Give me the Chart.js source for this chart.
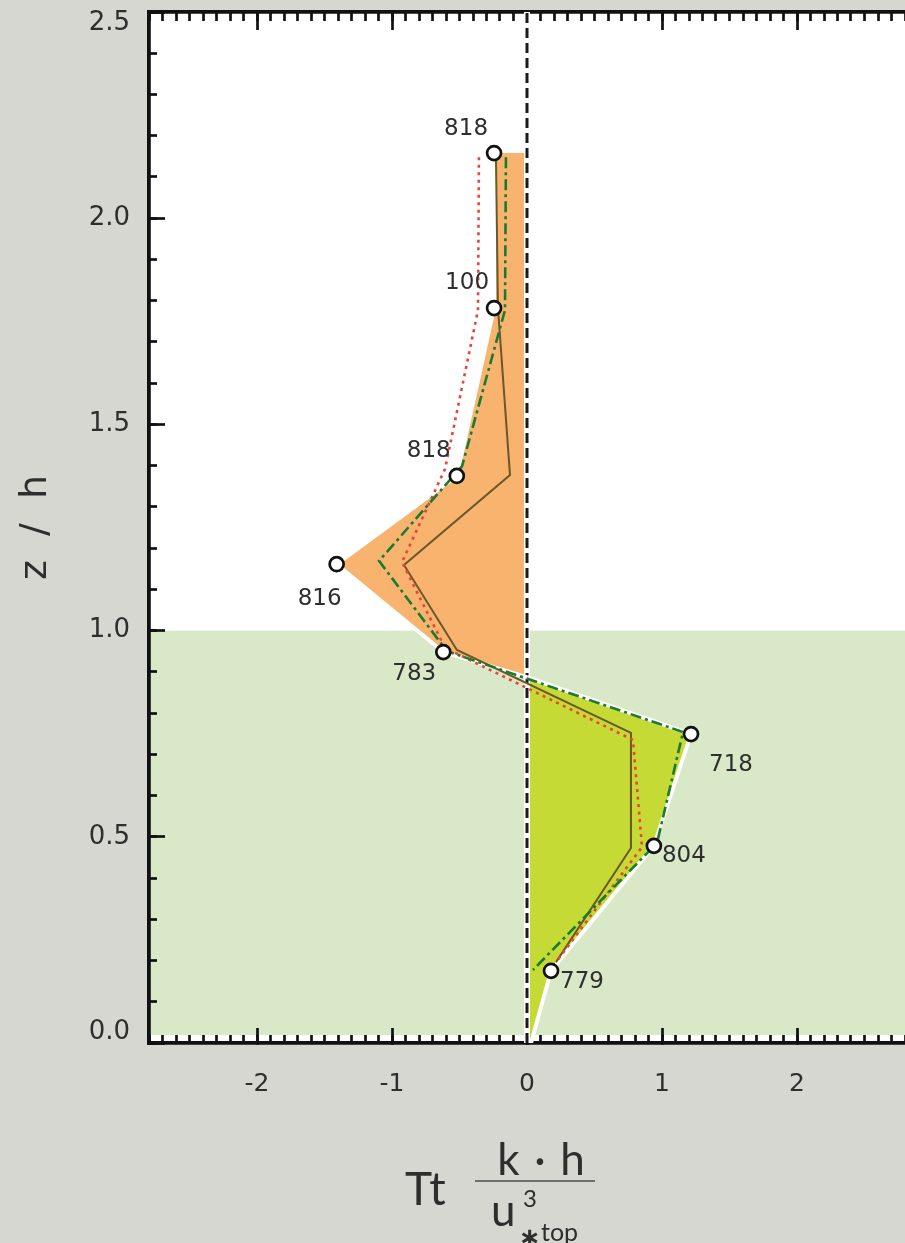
<!DOCTYPE html>
<html>
<head>
<meta charset="utf-8">
<script src="https://cdn.jsdelivr.net/npm/chart.js@4.4.1/dist/chart.umd.min.js"></script>
<style>
  html, body { margin: 0; padding: 0; background: #d7d7d1; }
  canvas { display: block; }
</style>
</head>
<body>
<canvas id="chart" width="905" height="1243"></canvas>
<script>
// Measured turbulent transport (normalised) against z/h, with sample counts
const profileZ = [2.158, 1.782, 1.375, 1.161, 0.948, 0.749, 0.478, 0.175];
const profileT = [-0.244, -0.244, -0.52, -1.41, -0.62, 1.215, 0.94, 0.178];
const sampleCounts = ['818', '100', '818', '816', '783', '718', '804', '779'];

// Envelope through the measurements: upper (negative) part and lower (positive) part
const envelopeUpperZ = [2.158, 1.782, 1.375, 1.161, 0.948, 0.887];
const envelopeUpperT = [-0.244, -0.244, -0.52, -1.41, -0.62, 0.0];
const envelopeLowerZ = [0.887, 0.749, 0.478, 0.175, 0.0];
const envelopeLowerT = [0.0, 1.215, 0.94, 0.178, 0.03];

// Model profiles
const solidZ = [2.148, 1.782, 1.377, 1.159, 0.953, 0.752, 0.473, 0.196];
const solidT = [-0.23, -0.215, -0.126, -0.911, -0.519, 0.77, 0.77, 0.215];
const dottedZ = [2.148, 1.777, 1.392, 1.166, 0.958, 0.735, 0.475, 0.196];
const dottedT = [-0.356, -0.363, -0.607, -0.926, -0.607, 0.785, 0.852, 0.215];
const dashDotZ = [2.148, 1.777, 1.399, 1.169, 0.95, 0.754, 0.485, 0.177];
const dashDotT = [-0.156, -0.163, -0.481, -1.096, -0.593, 1.156, 0.963, 0.044];

// Zero reference line and canopy top
const zeroLineZ = [0, 2.5];
const zeroLineT = [0, 0];
const canopyTop = 1.0;

// Axis ticks
const zTicks = [0, 0.5, 1.0, 1.5, 2.0, 2.5];
const tTicks = [-2, -1, 0, 1, 2];
const tRange = [-2.8, 2.8];
const zRange = [0, 2.5];

const pts = (xs, ys) => xs.map((x, i) => ({ x, y: ys[i] }));

// Offsets (px) of the sample-count labels from their markers
const labelOffsets = [[-28, -24], [-27, -25], [-28, -25], [-17, 35], [-29, 22], [40, 31], [30, 10], [31, 11]];

const INK = '#2e2e2e';

const clearPad = s => { s.paddingLeft = 0; s.paddingRight = 0; s.paddingTop = 0; s.paddingBottom = 0; };
const zeroSizeAxis = s => {
  if (s.isHorizontal()) { s.height = 0; } else { s.width = 0; }
  clearPad(s);
};

const plotBackground = {
  id: 'plotBackground',
  beforeDraw(chart) {
    const { ctx, chartArea: a, scales: { y } } = chart;
    ctx.save();
    ctx.fillStyle = '#ffffff';
    ctx.fillRect(a.left, a.top, a.right - a.left, a.bottom - a.top);
    const yc = y.getPixelForValue(canopyTop);
    ctx.fillStyle = '#d9e8c6';
    ctx.fillRect(a.left, yc, a.right - a.left, a.bottom - 8 - yc);
    ctx.restore();
  }
};

const countLabels = {
  id: 'countLabels',
  afterDatasetsDraw(chart) {
    const meta = chart.getDatasetMeta(chart.data.datasets.findIndex(d => d.label === 'measured'));
    const { ctx } = chart;
    ctx.save();
    ctx.font = '23px "DejaVu Sans"';
    ctx.fillStyle = INK;
    ctx.textAlign = 'center';
    ctx.textBaseline = 'middle';
    meta.data.forEach((p, i) => {
      ctx.fillText(sampleCounts[i], p.x + labelOffsets[i][0], p.y + labelOffsets[i][1]);
    });
    ctx.restore();
  }
};

// Axis title: Tt · (k·h) / u*top^3
const xTitle = {
  id: 'xTitle',
  afterDraw(chart) {
    const { ctx } = chart;
    ctx.save();
    ctx.fillStyle = INK;
    ctx.textBaseline = 'alphabetic';
    ctx.textAlign = 'left';
    ctx.font = '46px Lato';
    ctx.fillText('Tt', 405, 1205);
    ctx.textAlign = 'center';
    ctx.font = '44px Lato';
    ctx.fillText('k\u2004·\u2004h', 541, 1175);
    ctx.strokeStyle = '#6f6f6f';
    ctx.lineWidth = 2;
    ctx.beginPath();
    ctx.moveTo(475, 1181);
    ctx.lineTo(595, 1181);
    ctx.stroke();
    ctx.textAlign = 'left';
    ctx.font = '44px Lato';
    ctx.fillText('u', 491, 1226);
    ctx.font = '24px Lato';
    ctx.fillText('3', 523, 1207);
    ctx.font = 'bold 26px "DejaVu Sans"';
    ctx.fillText('∗', 519, 1246);
    ctx.font = '25px Lato';
    ctx.fillText('top', 541, 1241);
    ctx.restore();
  }
};

const tickGrid = (len) => ({
  display: true, drawOnChartArea: false, drawTicks: true,
  tickLength: -len, tickColor: '#111', tickWidth: 2.7, color: '#111'
});

// First and last z labels are nudged inside the frame (extra empty line)
const zLabel = (v, i, ticks) => {
  const s = v.toFixed(1);
  if (i === ticks.length - 1) return ['', s];
  if (i === 0) return [s, ''];
  return s;
};

new Chart(document.getElementById('chart'), {
  type: 'line',
  data: {
    datasets: [
      {
        label: 'measured', data: pts(profileT, profileZ), showLine: false,
        pointRadius: 7, pointBackgroundColor: '#ffffff', pointBorderColor: '#111',
        pointBorderWidth: 2.7, order: 0
      },
      {
        label: 'dash-dot', data: pts(dashDotT, dashDotZ), borderColor: '#1c7a30',
        borderWidth: 2.6, borderDash: [11, 4, 3, 4], pointRadius: 0, fill: false, order: 1
      },
      {
        label: 'dotted', data: pts(dottedT, dottedZ), borderColor: '#e8443a',
        borderWidth: 2.6, borderDash: [3, 4.5], pointRadius: 0, fill: false, order: 2
      },
      {
        label: 'solid', data: pts(solidT, solidZ), borderColor: '#6c5729',
        borderWidth: 2, pointRadius: 0, fill: false, order: 3
      },
      {
        label: 'envelope-lower', data: pts(envelopeLowerT, envelopeLowerZ), borderColor: '#ffffff',
        borderWidth: 4, pointRadius: 0, fill: 'origin', backgroundColor: '#c6da36', order: 4
      },
      {
        label: 'envelope-upper', data: pts(envelopeUpperT, envelopeUpperZ), borderColor: '#ffffff',
        borderWidth: 4, pointRadius: 0, fill: 'origin', backgroundColor: '#f8b46f', order: 5
      },
      {
        label: 'zero', data: pts(zeroLineT, zeroLineZ), borderColor: '#1a1a1a',
        borderWidth: 3, borderDash: [10, 5], pointRadius: 0, fill: false, order: 6
      },
      {
        label: 'zero-casing', data: pts(zeroLineT, zeroLineZ), borderColor: '#ffffff',
        borderWidth: 6, pointRadius: 0, fill: false, order: 7
      }
    ]
  },
  options: {
    indexAxis: 'y',
    responsive: false,
    animation: false,
    layout: { padding: 0, autoPadding: false },
    plugins: {
      legend: { display: false },
      tooltip: { enabled: false },
      filler: { drawTime: 'beforeDatasetsDraw' }
    },
    scales: {
      x: {
        type: 'linear', axis: 'x', position: 'bottom', weight: 1,
        min: tRange[0], max: tRange[1],
        afterBuildTicks: s => { s.ticks = tTicks.map(v => ({ value: v })); },
        ticks: { font: { family: 'DejaVu Sans', size: 25, lineHeight: 1.2 }, color: INK, padding: 41, callback: v => String(v), maxRotation: 0, autoSkip: false },
        grid: tickGrid(15),
        border: { display: true, color: '#111', width: 3.8 },
        afterFit: s => { s.height = 200; clearPad(s); }
      },
      y: {
        type: 'linear', axis: 'y', position: 'left', weight: 1,
        min: zRange[0], max: zRange[1],
        afterBuildTicks: s => { s.ticks = zTicks.map(v => ({ value: v })); },
        ticks: { font: { family: 'DejaVu Sans', size: 26, lineHeight: 0.85 }, color: INK, padding: 35, callback: zLabel, autoSkip: false },
        grid: tickGrid(16),
        border: { display: true, color: '#111', width: 3.8 },
        title: { display: true, text: 'z  /  h', color: INK, font: { family: 'DejaVu Sans', size: 38, lineHeight: 1.2 }, padding: { top: 13, bottom: 0 } },
        afterFit: s => { s.width = 149; clearPad(s); }
      },
      xMinor: {
        type: 'linear', axis: 'x', position: 'bottom', weight: 0,
        min: tRange[0], max: tRange[1],
        ticks: { display: false, stepSize: 0.1 },
        grid: tickGrid(8),
        border: { display: false },
        afterFit: zeroSizeAxis
      },
      yMinor: {
        type: 'linear', axis: 'y', position: 'left', weight: 0,
        min: zRange[0], max: zRange[1],
        ticks: { display: false, stepSize: 0.1 },
        grid: tickGrid(8),
        border: { display: false },
        afterFit: zeroSizeAxis
      },
      xTop: {
        type: 'linear', axis: 'x', position: 'top', weight: 1,
        min: tRange[0], max: tRange[1],
        afterBuildTicks: s => { s.ticks = tTicks.map(v => ({ value: v })); },
        ticks: { display: false },
        grid: tickGrid(18),
        border: { display: true, color: '#111', width: 3.8 },
        afterFit: s => { s.height = 12; clearPad(s); }
      },
      xTopMinor: {
        type: 'linear', axis: 'x', position: 'top', weight: 0,
        min: tRange[0], max: tRange[1],
        ticks: { display: false, stepSize: 0.1 },
        grid: tickGrid(9),
        border: { display: false },
        afterFit: zeroSizeAxis
      }
    }
  },
  plugins: [plotBackground, countLabels, xTitle]
});
</script>
</body>
</html>
